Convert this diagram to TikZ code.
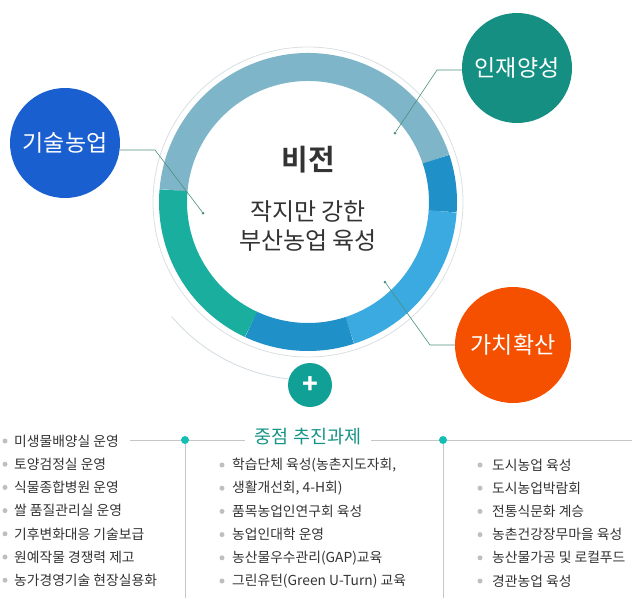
\documentclass[tikz,border=0pt]{standalone}
\usepackage{fontspec}
\setmainfont{Noto Sans CJK KR}
\newfontfamily\krb[BoldFont={Noto Sans CJK KR Bold}]{Noto Sans CJK KR}
\definecolor{cA}{HTML}{7FB5C8}
\definecolor{cB}{HTML}{2090C8}
\definecolor{cC}{HTML}{3BAAE0}
\definecolor{cD}{HTML}{1AAE9F}
\definecolor{cBlue}{HTML}{1A5FD0}
\definecolor{cTeal}{HTML}{148F82}
\definecolor{cOr}{HTML}{F55000}
\definecolor{cLine}{HTML}{4E8F80}
\definecolor{cTxt}{HTML}{333333}
\tikzset{
 seg/.style={line width=28pt},
 bub/.style={circle,fill=#1,text=white,font=\fontsize{23}{26}\selectfont,inner sep=0pt},
 conn/.style={draw=cLine,line width=0.6pt},
 dotc/.style={circle,fill=cLine,inner sep=0pt,minimum size=3pt},
 item/.style={anchor=west,text=cTxt,font=\fontsize{13.8}{15}\selectfont,inner sep=0pt},
 bul/.style={circle,fill=gray!50,inner sep=0pt,minimum size=5pt},
}
\begin{document}
\begin{tikzpicture}[x=1pt,y=-1pt]
\useasboundingbox (0,0) rectangle (632,598);
\coordinate (c) at (308,202);
% outer thin circles
\draw[cyan!15!gray!30,line width=0.8pt] (c) circle[radius=155];
\draw[cyan!20!gray!35,line width=0.8pt] ([shift={(140:178)}]c) arc[start angle=140,end angle=96,radius=178];
% ring segments
\draw[seg,cA] ([shift={(-18.5:135)}]c) arc[start angle=-18.5,end angle=-175,radius=135];
\draw[seg,cB] ([shift={(4:135)}]c) arc[start angle=4,end angle=-18.5,radius=135];
\draw[seg,cC] ([shift={(72:135)}]c) arc[start angle=72,end angle=4,radius=135];
\draw[seg,cB] ([shift={(115:135)}]c) arc[start angle=115,end angle=72,radius=135];
\draw[seg,cD] ([shift={(185:135)}]c) arc[start angle=185,end angle=115,radius=135];
% center text
\node[text=cTxt,font=\krb\bfseries\fontsize{29}{32}\selectfont] (v) at (308,160) {비전};
\node[text=cTxt,font=\fontsize{24}{29}\selectfont,align=center] (vs) at (308,226) {작지만 강한\\부산농업 육성};
% bubbles
\node[bub=cBlue,minimum size=110pt] (b1) at (65,143) {기술농업};
\node[bub=cTeal,minimum size=110pt] (b2) at (517,68) {인재양성};
\node[bub=cOr,minimum size=116pt] (b3) at (513,345) {가치확산};
\node[circle,fill=cTeal!85!cyan,text=white,minimum size=44pt,inner sep=0pt,font=\bfseries\fontsize{26}{26}\selectfont] (plus) at (310,385) {+};
% connectors
\node[dotc] (d1) at (203,213) {};
\node[dotc] (d2) at (395,133) {};
\node[dotc] (d3) at (385,282) {};
\coordinate (k1) at (155,150);
\coordinate (k2) at (437,70);
\coordinate (k3) at (430,345);
\draw[conn] (b1.east |- k1) -- (k1) -- (d1);
\draw[conn] (b2.west |- k2) -- (k2) -- (d2);
\draw[conn] (b3.west |- k3) -- (k3) -- (d3);
% bottom header
\coordinate (h0) at (130,440);
\coordinate (h1) at (632,440);
\draw[gray!45,line width=0.6pt] (h0) -- (h1);
\node[circle,fill=cD!80!cyan,inner sep=0pt,minimum size=8pt] (p1) at (185,440) {};
\node[circle,fill=cD!80!cyan,inner sep=0pt,minimum size=8pt] (p2) at (443,440) {};
\coordinate (q1) at (185,598);
\coordinate (q2) at (443,598);
\draw[gray!45,line width=0.6pt] (p1) -- (q1);
\draw[gray!45,line width=0.6pt] (p2) -- (q2);
\node[fill=white,text=cD!85!black,font=\fontsize{18.5}{20}\selectfont,inner xsep=10pt] (ttl) at (308,437) {중점 추진과제};
% columns
\foreach \t [count=\i] in {미생물배양실 운영,토양검정실 운영,식물종합병원 운영,쌀 품질관리실 운영,기후변화대응 기술보급,원예작물 경쟁력 제고,농가경영기술 현장실용화}{
 \node[bul] (l\i) at (5,{441+23.2*(\i-1)}) {};
 \node[item] (lt\i) at (14,{441+23.2*(\i-1)}) {\t};
}
\foreach \t [count=\i] in {{학습단체 육성(농촌지도자회,},{생활개선회, 4-H회)},품목농업인연구회 육성,농업인대학 운영,농산물우수관리(GAP)교육,그린유턴(Green U-Turn) 교육}{
 \node[bul] (m\i) at (222,{465+23.2*(\i-1)}) {};
 \node[item] (mt\i) at (232,{465+23.2*(\i-1)}) {\t};
}
\foreach \t [count=\i] in {도시농업 육성,도시농업박람회,전통식문화 계승,농촌건강장무마을 육성,농산물가공 및 로컬푸드,경관농업 육성}{
 \node[bul] (r\i) at (480,{465+23.2*(\i-1)}) {};
 \node[item] (rt\i) at (492,{465+23.2*(\i-1)}) {\t};
}
\end{tikzpicture}
\end{document}
